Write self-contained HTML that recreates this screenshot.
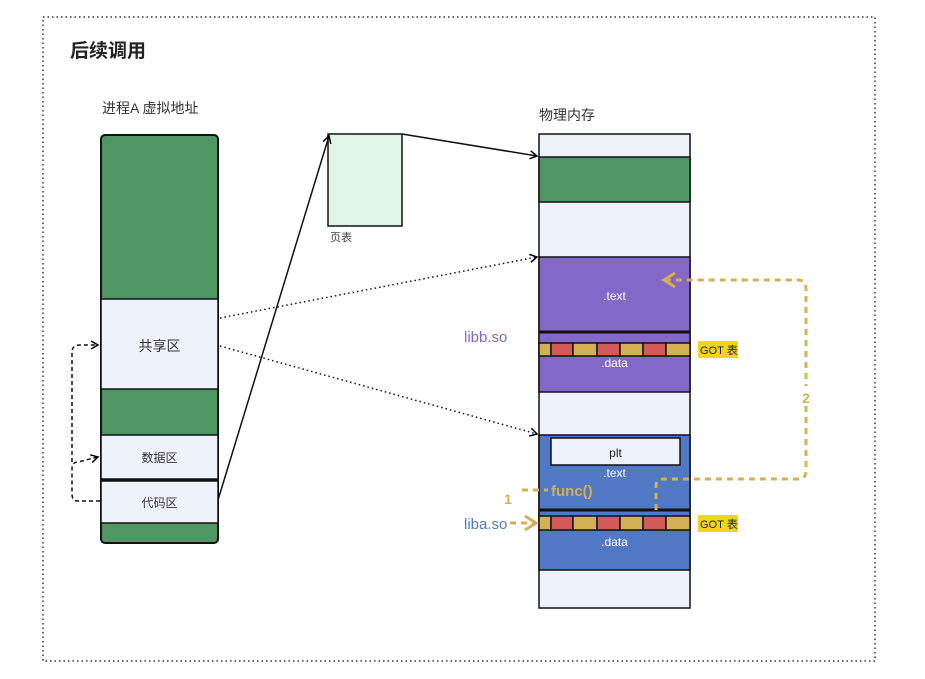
<!DOCTYPE html>
<html><head><meta charset="utf-8"><style>
html,body{margin:0;padding:0;background:#fff;}
svg{display:block;font-family:"Liberation Sans","Noto Sans CJK SC",sans-serif;}
</style></head><body>
<svg width="925" height="679" viewBox="0 0 925 679" xmlns="http://www.w3.org/2000/svg">
<defs>
<marker id="ab" markerWidth="10" markerHeight="10" refX="8" refY="5" orient="auto" markerUnits="userSpaceOnUse"><path d="M1,1 L8,5 L1,9" fill="none" stroke="#000" stroke-width="1.5"/></marker>
<marker id="ay" markerWidth="16" markerHeight="16" refX="13" refY="8" orient="auto" markerUnits="userSpaceOnUse"><path d="M2,1 L13,8 L2,15" fill="none" stroke="#d4b052" stroke-width="3"/></marker>
</defs>
<rect x="43" y="17" width="832" height="644" fill="none" stroke="#333" stroke-width="1.5" stroke-dasharray="1.5,3"/>
<text x="70" y="57" font-size="19" font-weight="bold" fill="#222">后续调用</text>
<text x="102" y="113" font-size="14" fill="#333">进程A 虚拟地址</text>

<!-- left column -->
<rect x="101" y="135" width="117" height="408" rx="4" fill="#4f9664" stroke="#111" stroke-width="2"/>
<rect x="101" y="299" width="117" height="90" fill="#eef3fb" stroke="#111" stroke-width="1.5"/>
<rect x="101" y="435" width="117" height="44" fill="#eef3fb" stroke="#111" stroke-width="1.5"/>
<rect x="101" y="481" width="117" height="42" fill="#eef3fb" stroke="#111" stroke-width="1.5"/>
<line x1="101" y1="480" x2="218" y2="480" stroke="#111" stroke-width="3"/>
<text x="159.5" y="351" font-size="14" fill="#333" text-anchor="middle">共享区</text>
<text x="159.5" y="462" font-size="12" fill="#333" text-anchor="middle">数据区</text>
<text x="159.5" y="507" font-size="12" fill="#333" text-anchor="middle">代码区</text>

<path d="M100,501 L78,501 Q72,501 72,494 L72,469 Q72,462 78,462 L98,457" fill="none" stroke="#111" stroke-width="1.5" stroke-dasharray="4,3" marker-end="url(#ab)"/>
<path d="M72,462 Q72,456 72,452 L72,352 Q72,345 80,345 L98,345" fill="none" stroke="#111" stroke-width="1.5" stroke-dasharray="4,3" marker-end="url(#ab)"/>

<!-- page table -->
<rect x="328" y="134" width="74" height="92" fill="#dff5e6" stroke="#111" stroke-width="1.5"/>
<text x="330" y="241" font-size="11" fill="#444">页表</text>
<line x1="218" y1="500" x2="329" y2="136" stroke="#111" stroke-width="1.5" marker-end="url(#ab)"/>
<line x1="402" y1="134" x2="537" y2="156" stroke="#111" stroke-width="1.5" marker-end="url(#ab)"/>
<line x1="220" y1="318" x2="537" y2="257" stroke="#111" stroke-width="1.5" stroke-dasharray="1.5,3" marker-end="url(#ab)"/>
<line x1="220" y1="346" x2="537" y2="434" stroke="#111" stroke-width="1.5" stroke-dasharray="1.5,3" marker-end="url(#ab)"/>

<!-- physical memory -->
<text x="539" y="120" font-size="14" fill="#333">物理内存</text>
<rect x="539" y="134" width="151" height="474" fill="#eef3fb" stroke="#111" stroke-width="1.5"/>
<rect x="539" y="157" width="151" height="45" fill="#4f9664" stroke="#111" stroke-width="1.5"/>
<rect x="539" y="257" width="151" height="135" fill="#8468c7" stroke="#111" stroke-width="1.5"/>
<line x1="539" y1="332" x2="690" y2="332" stroke="#111" stroke-width="3"/>
<rect x="539" y="435" width="151" height="135" fill="#5078c4" stroke="#111" stroke-width="1.5"/>
<line x1="539" y1="510" x2="690" y2="510" stroke="#111" stroke-width="3"/>
<rect x="551" y="438" width="129" height="27" fill="#eef3fb" stroke="#111" stroke-width="1.5"/>
<text x="615.5" y="457" font-size="12" fill="#222" text-anchor="middle">plt</text>
<text x="614.5" y="300" font-size="12" fill="#fff" text-anchor="middle">.text</text>
<text x="614.5" y="367" font-size="12" fill="#fff" text-anchor="middle">.data</text>
<text x="614.5" y="477" font-size="12" fill="#fff" text-anchor="middle">.text</text>
<text x="614.5" y="546" font-size="12" fill="#fff" text-anchor="middle">.data</text>

<!-- GOT rows -->
<g stroke="#111" stroke-width="1.5">
<rect x="539" y="343" width="12" height="13" fill="#d4b052"/><rect x="551" y="343" width="22" height="13" fill="#d45a5a"/><rect x="573" y="343" width="24" height="13" fill="#d4b052"/><rect x="597" y="343" width="23" height="13" fill="#d45a5a"/><rect x="620" y="343" width="23" height="13" fill="#d4b052"/><rect x="643" y="343" width="23" height="13" fill="#d45a5a"/><rect x="666" y="343" width="24" height="13" fill="#d4b052"/>
<rect x="539" y="516" width="12" height="14" fill="#d4b052"/><rect x="551" y="516" width="22" height="14" fill="#d45a5a"/><rect x="573" y="516" width="24" height="14" fill="#d4b052"/><rect x="597" y="516" width="23" height="14" fill="#d45a5a"/><rect x="620" y="516" width="23" height="14" fill="#d4b052"/><rect x="643" y="516" width="23" height="14" fill="#d45a5a"/><rect x="666" y="516" width="24" height="14" fill="#d4b052"/>
</g>
<rect x="698" y="341" width="40" height="17" fill="#f2d41a"/>
<text x="700" y="354" font-size="11" fill="#222">GOT 表</text>
<rect x="698" y="515" width="40" height="17" fill="#f2d41a"/>
<text x="700" y="528" font-size="11" fill="#222">GOT 表</text>

<text x="464" y="342" font-size="15" fill="#8468c7">libb.so</text>
<text x="464" y="529" font-size="15" fill="#5078c4">liba.so</text>

<!-- yellow dashed paths -->
<g fill="none" stroke="#d4b052" stroke-width="3" stroke-dasharray="6,5">
<line x1="522" y1="490" x2="548" y2="490"/>
<path d="M510,523 L536,523" marker-end="url(#ay)"/>
<path d="M656,510 L656,486 Q656,479 664,479 L798,479 Q806,479 806,471 L806,289 Q806,280 798,280 L664,280" marker-end="url(#ay)"/>
</g>
<rect x="798" y="386" width="16" height="20" fill="#fff"/>
<text x="806" y="403" font-size="14" font-weight="bold" fill="#d4b052" text-anchor="middle">2</text>
<text x="508" y="504" font-size="14" font-weight="bold" fill="#d4b052" text-anchor="middle">1</text>
<text x="551" y="496" font-size="15" font-weight="bold" fill="#d4b052">func()</text>
</svg>
</body></html>
